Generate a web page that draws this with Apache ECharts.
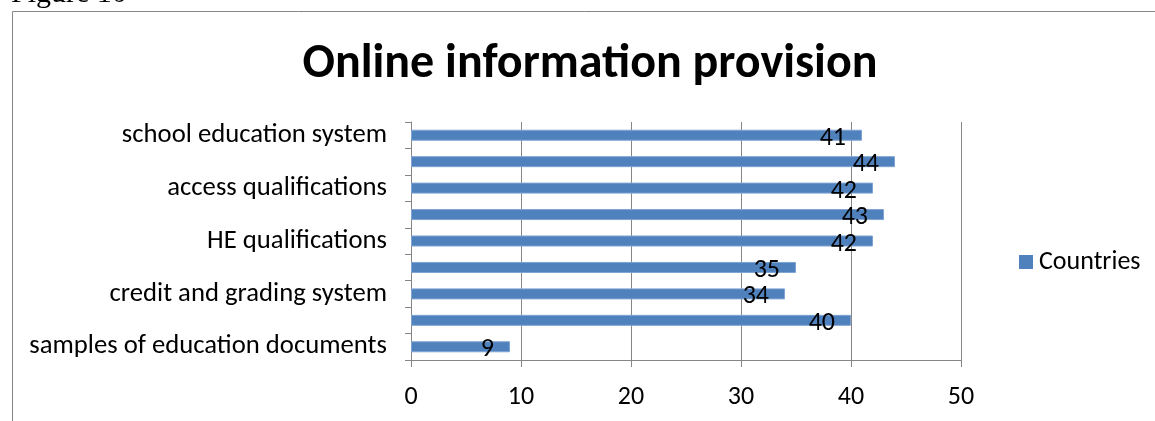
<!DOCTYPE html>
<html>
<head>
<meta charset="utf-8">
<script src="https://cdn.jsdelivr.net/npm/echarts@6/dist/echarts.min.js"></script>
<style>
  html, body { margin: 0; padding: 0; background: #fff; }
  #chart { width: 1155px; height: 421px; }
</style>
</head>
<body>
<div id="chart"></div>
<script>
// categories from bottom to top; every other label is not shown in the original
var categories = [
  "samples of education documents",
  "",
  "credit and grading system",
  " ",
  "HE qualifications",
  "  ",
  "access qualifications",
  "   ",
  "school education system"
];
var countries = [9, 40, 34, 35, 42, 43, 42, 44, 41];
var xTicks = [0, 10, 20, 30, 40, 50];

var chart = echarts.init(document.getElementById("chart"));
var font = "Carlito, 'Open Sans', sans-serif";
var gray = "#868686";

var option = {
  animation: false,
  backgroundColor: "#fff",
  textStyle: { fontFamily: font },
  graphic: [
    // outer chart border (only top and left visible)
    {
      type: "rect",
      shape: { x: 12.5, y: 11.5, width: 1200, height: 500 },
      style: { fill: "none", stroke: gray, lineWidth: 1 }
    },
    {
      type: "text",
      left: 11,
      top: -21,
      style: { text: "Figure 10", font: "30px 'Liberation Serif', serif", fill: "#000" }
    }
  ],
  title: {
    text: "Online information provision",
    left: 585,
    top: 36,
    textAlign: "center",
    textStyle: { fontSize: 48, fontWeight: "bold", color: "#000", fontFamily: font }
  },
  legend: {
    data: ["Countries"],
    left: 1014,
    top: 244,
    icon: "rect",
    itemWidth: 14,
    itemHeight: 14,
    itemGap: 6,
    itemStyle: { borderWidth: 0 },
    textStyle: { fontSize: 26, color: "#000", fontFamily: font, padding: [0, 0, 0, 1] }
  },
  grid: { left: 411, right: 194, top: 122, bottom: 61, containLabel: false },
  xAxis: {
    type: "value",
    min: xTicks[0],
    max: xTicks[xTicks.length - 1],
    interval: 10,
    axisLine: { show: true, lineStyle: { color: gray } },
    axisTick: { show: true, length: 7, lineStyle: { color: gray } },
    splitLine: { show: true, lineStyle: { color: gray, width: 1 } },
    axisLabel: { color: "#000", fontSize: 26, margin: 24, fontFamily: font }
  },
  yAxis: {
    type: "category",
    data: categories,
    axisLine: { show: true, lineStyle: { color: gray } },
    axisTick: { show: true, length: 6, interval: 0, lineStyle: { color: gray } },
    axisLabel: { color: "#000", fontSize: 26.7, margin: 24, interval: 1, fontFamily: font }
  },
  series: [
    {
      name: "Countries",
      type: "bar",
      data: countries,
      barWidth: 11,
      itemStyle: { color: "#4F81BD", borderColor: "#7FA3D2", borderWidth: 1 },
      label: {
        show: true,
        position: "insideRight",
        offset: [-11, 3],
        color: "#000",
        fontSize: 26,
        fontFamily: font
      }
    }
  ]
};

chart.setOption(option);
</script>
</body>
</html>
